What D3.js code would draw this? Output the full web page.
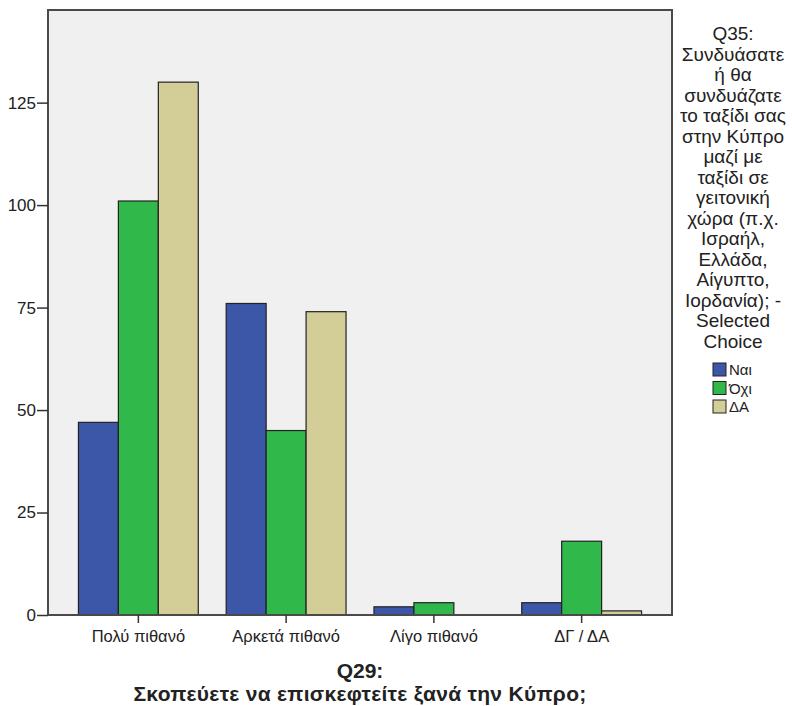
<!DOCTYPE html>
<html><head><meta charset="utf-8">
<script src="https://cdn.jsdelivr.net/npm/d3@7"></script>
<style>body{margin:0;background:#fff}svg{display:block}text{font-family:"Liberation Sans",Arial,sans-serif;fill:#222}</style>
</head><body><svg id="c" width="792" height="706"></svg>
<script>
const categories = ["Πολύ πιθανό", "Αρκετά πιθανό", "Λίγο πιθανό", "ΔΓ / ΔΑ"];
const seriesNames = ["Ναι", "Όχι", "ΔΑ"];
const valuesNai = [47, 76, 2, 3];
const valuesOxi = [101, 45, 3, 18];
const valuesDA = [130, 74, 0, 1];
const yTicks = [0, 25, 50, 75, 100, 125];
const colors = ["#3d57a8", "#30b84a", "#d3cd98"];
const legendTitle = ["Q35:", "Συνδυάσατε", "ή θα", "συνδυάζατε", "το ταξίδι σας", "στην Κύπρο", "μαζί με", "ταξίδι σε", "γειτονική", "χώρα (π.χ.", "Ισραήλ,", "Ελλάδα,", "Αίγυπτο,", "Ιορδανία); -", "Selected", "Choice"];
const xTitle = ["Q29:", "Σκοπεύετε να επισκεφτείτε ξανά την Κύπρο;"];

const series = [valuesNai, valuesOxi, valuesDA];
const svg = d3.select("#c");
const L = 48, R = 672, T = 10, B = 615;

const x = d3.scaleBand().domain(categories).range([L, R]).paddingInner(0.189).paddingOuter(0.206);
const xs = d3.scaleBand().domain(seriesNames).range([0, x.bandwidth()]);
const y = d3.scaleLinear().domain([0, 147.6]).range([B, T]);

svg.append("rect").attr("x", L).attr("y", T).attr("width", R - L).attr("height", B - T).attr("fill", "#f0f0f0");

categories.forEach((c, i) => {
  series.forEach((s, j) => {
    if (s[i] <= 0) return;
    svg.append("rect")
      .attr("x", x(c) + xs(seriesNames[j]))
      .attr("y", y(s[i]))
      .attr("width", xs.bandwidth())
      .attr("height", B - y(s[i]))
      .attr("fill", colors[j]).attr("stroke", "#222").attr("stroke-width", 1.2);
  });
});

// frame
svg.append("rect").attr("x", L).attr("y", T).attr("width", R - L).attr("height", B - T)
  .attr("fill", "none").attr("stroke", "#4a4a4a").attr("stroke-width", 2);

// y axis
const ya = svg.append("g").attr("transform", `translate(${L},0)`)
  .call(d3.axisLeft(y).tickValues(yTicks).tickSize(11).tickSizeOuter(0).tickPadding(1));
ya.select(".domain").remove();
ya.selectAll("line").attr("stroke", "#333").attr("stroke-width", 1.5);
ya.selectAll("text").attr("font-size", 17).attr("fill", "#222").attr("font-family", "Liberation Sans, Arial, sans-serif");

// x axis
const xa = svg.append("g").attr("transform", `translate(0,${B})`)
  .call(d3.axisBottom(x).tickSize(8).tickSizeOuter(0).tickPadding(7));
xa.select(".domain").remove();
xa.selectAll("line").attr("stroke", "#333").attr("stroke-width", 1.5);
xa.selectAll("text").attr("font-size", 16.5).attr("fill", "#222").attr("font-family", "Liberation Sans, Arial, sans-serif");

// x title
svg.append("text").attr("x", 360).attr("y", 678).attr("text-anchor", "middle")
  .attr("font-size", 21).attr("font-weight", "bold").text(xTitle[0]);
svg.append("text").attr("x", 360).attr("y", 701).attr("text-anchor", "middle")
  .attr("font-size", 21).attr("font-weight", "bold").attr("letter-spacing", 0.3).text(xTitle[1]);

// legend
legendTitle.forEach((t, i) => {
  svg.append("text").attr("x", 733).attr("y", 40 + i * 20.5).attr("text-anchor", "middle")
    .attr("font-size", 19).text(t);
});
seriesNames.forEach((n, i) => {
  const yy = 363 + i * 18.5;
  svg.append("rect").attr("x", 713).attr("y", yy).attr("width", 13).attr("height", 13)
    .attr("fill", colors[i]).attr("stroke", "#222").attr("stroke-width", 1);
  svg.append("text").attr("x", 729).attr("y", yy + 12).attr("font-size", 15).text(n);
});
</script></body></html>
